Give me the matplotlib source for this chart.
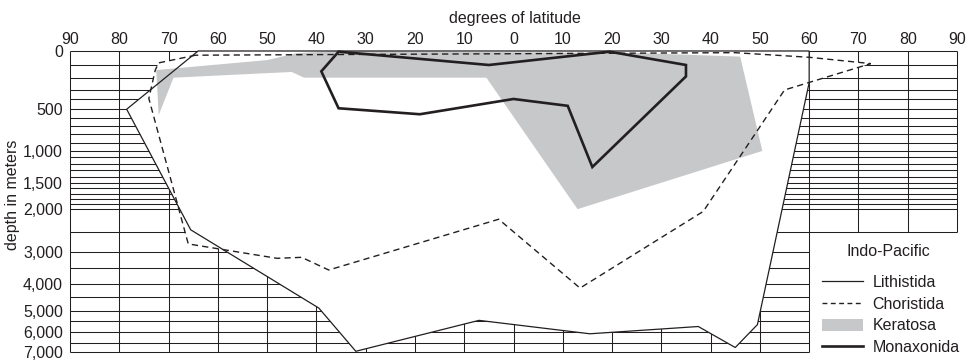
import numpy as np
import matplotlib
matplotlib.use("Agg")
import matplotlib.pyplot as plt
from matplotlib.lines import Line2D
from matplotlib.patches import Patch

plt.rcParams['font.family'] = ['Liberation Sans', 'DejaVu Sans']

# ---- axes ---------------------------------------------------------------
# latitude: negative values are the left half of the section
lat_ticks = list(range(-90, 91, 10))
depth_ticks = [0, 500, 1000, 1500, 2000, 3000, 4000, 5000, 6000, 7000]
depth_tick_labels = ['0', '500', '1,000', '1,500', '2,000', '3,000',
                     '4,000', '5,000', '6,000', '7,000']

# the depth axis is stretched near the surface (piecewise scale)
scale_depths = [0, 100, 200, 300, 400, 500, 1000, 1500, 2000, 2500, 3000,
                3500, 4000, 4500, 5000, 5500, 6000, 6500, 7000]
scale_positions = [0, 14, 26.7, 39, 48.5, 58.3, 100, 132.3, 158.3, 181.3,
                   201, 217.3, 233.3, 246.7, 260, 270.7, 281.3, 292.3, 301.3]

# grid depths: 100 m steps to 2,000 m, then 500 m steps
grid_depths_fine = list(range(0, 2001, 100))
grid_depths_coarse = list(range(2500, 7001, 500))

# ---- taxa (latitude, depth in m) -----------------------------------------
lithistida_lat = [-64, -78.5, -65.5, -39.5, -32, -7, 15.5, 37.5, 45, 49.5, 60, 60]
lithistida_depth = [0, 500, 2450, 4900, 6960, 5450, 6080, 5740, 6750, 5650, 240, 0]

choristida_lat = [-64.5, -72, -72.7, -74, -66, -48, -43, -37.5, -3, 13.5,
                  38.5, 55, 72.5, 60, 45]
choristida_depth = [30, 85, 140, 390, 2800, 3200, 3170, 3560, 2220, 4150,
                    2050, 300, 90, 45, 12]

keratosa_lat = [-72.5, -50, -44, -35, 25.5, 46, 50.5, 13, -5.5, -42.5, -45,
                -69, -72]
keratosa_depth = [140, 65, 15, 0, 15, 40, 1000, 2000, 200, 200, 155, 200, 570]

monaxonida_lat = [-35.5, -5, 19.5, 35, 35, 16, 11, 0, -19, -35.5, -39]
monaxonida_depth = [5, 100, 5, 100, 190, 1250, 465, 395, 560, 490, 150]

legend_title = 'Indo-Pacific'
legend_labels = ['Lithistida', 'Choristida', 'Keratosa', 'Monaxonida']

# ---- style --------------------------------------------------------------
ink = '#231f20'
grey = '#c7c8ca'
fs = 11.5

# extend the piecewise scale linearly so it never clamps
_d = np.array(scale_depths, float)
_p = np.array(scale_positions, float)
ext_d = np.concatenate([[-10000], _d, [20000]])
lo_slope = (_p[1] - _p[0]) / (_d[1] - _d[0])
hi_slope = (_p[-1] - _p[-2]) / (_d[-1] - _d[-2])
ext_p = np.concatenate([[_p[0] - 10000 * lo_slope], _p,
                        [_p[-1] + (20000 - _d[-1]) * hi_slope]])


def depth_fwd(d):
    return np.interp(d, ext_d, ext_p)


def depth_inv(p):
    return np.interp(p, ext_p, ext_d)


fig = plt.figure(figsize=(9.73, 3.6), dpi=100)
ax = fig.add_axes([70 / 973, 8 / 360, 887 / 973, 301 / 360])
ax.set_yscale('function', functions=(depth_fwd, depth_inv))
ax.set_xlim(-90, 90)
ax.set_ylim(7000, 0)
for s in ax.spines.values():
    s.set_visible(False)

# ---- grid ---------------------------------------------------------------
glw = 0.75
ax.hlines(grid_depths_fine + [2500], -90, 90, color=ink, lw=glw, zorder=1,
          clip_on=False)
ax.hlines(grid_depths_coarse[1:], -90, 60, color=ink, lw=glw, zorder=1,
          clip_on=False)
for lat in lat_ticks:
    bottom = 7000 if lat <= 60 else 2500
    ax.vlines(lat, 0, bottom, color=ink, lw=glw, zorder=1, clip_on=False)

# white envelopes mask the grid inside the ranges
ax.fill(lithistida_lat, lithistida_depth, color='white', lw=0, zorder=2)
ax.fill(choristida_lat, choristida_depth, color='white', lw=0, zorder=2)

# Keratosa range
ax.fill(keratosa_lat, keratosa_depth, color=grey, lw=0, zorder=3)

# outlines
ax.fill(lithistida_lat, lithistida_depth, facecolor='none', edgecolor=ink,
        lw=0.9, zorder=4, clip_on=False)
ax.fill(choristida_lat, choristida_depth, facecolor='none', edgecolor=ink,
        lw=1.0, linestyle=(0, (4.5, 3)), zorder=4, clip_on=False)
ax.fill(monaxonida_lat, monaxonida_depth, facecolor='none', edgecolor=ink,
        lw=1.9, joinstyle='miter', zorder=5, clip_on=False)

# ---- ticks & labels -----------------------------------------------------
ax.xaxis.tick_top()
ax.set_xticks(lat_ticks)
ax.set_xticklabels([str(abs(v)) for v in lat_ticks])
ax.set_yticks(depth_ticks)
ax.set_yticklabels(depth_tick_labels)
ax.yaxis.set_minor_locator(matplotlib.ticker.NullLocator())
ax.tick_params(axis='x', length=0, pad=3.0, labelsize=fs, colors=ink)
ax.tick_params(axis='y', length=0, pad=5.0, labelsize=fs, colors=ink)

ax.xaxis.set_label_position('top')
ax.set_xlabel('degrees of latitude', fontsize=fs, color=ink)
ax.xaxis.set_label_coords(0.5017, 1.092)
ax.set_ylabel('depth in meters', fontsize=fs, color=ink)
ax.yaxis.set_label_coords(-0.0565, 0.522)

# ---- legend -------------------------------------------------------------
ax.text(0.9222, 0.335, legend_title, transform=ax.transAxes, fontsize=fs,
        color=ink, ha='center', va='center', zorder=6)
handles = [
    Line2D([], [], color=ink, lw=0.9),
    Line2D([], [], color=ink, lw=1.0, linestyle=(0, (3.5, 2.5))),
    Patch(facecolor=grey, edgecolor='none'),
    Line2D([], [], color=ink, lw=1.9),
]
leg = ax.legend(handles, legend_labels,
                loc='upper left', bbox_to_anchor=(0.848, 0.2554),
                frameon=False, fontsize=fs,
                handlelength=2.55, handleheight=0.8, handletextpad=0.6,
                labelspacing=0.41, borderpad=0, borderaxespad=0)
for t in leg.get_texts():
    t.set_color(ink)
leg.set_zorder(6)

fig.savefig('out.png', dpi=100)
